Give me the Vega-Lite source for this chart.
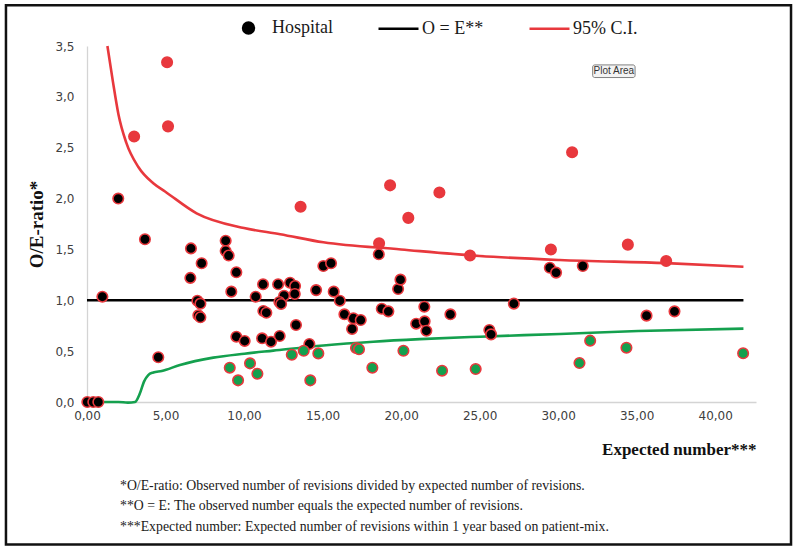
{
  "$schema": "https://vega.github.io/schema/vega-lite/v6.json",
  "width": 669,
  "height": 356,
  "autosize": {"type": "none"},
  "padding": {"left": 87, "top": 46, "right": 38, "bottom": 145},
  "background": "white",
  "config": {
    "locale": {"number": {"decimal": ",", "thousands": ".", "grouping": [3], "currency": ["", " €"]}},
    "view": {"stroke": null},
    "axis": {
      "gridColor": "#d4d4d4",
      "gridWidth": 1.3,
      "domainColor": "#d4d4d4",
      "domainWidth": 1.3,
      "ticks": false,
      "labelFlush": false,
      "labelFont": "DejaVu Sans",
      "labelFontSize": 12,
      "labelColor": "#404040",
      "titleFont": "Liberation Serif",
      "titleFontWeight": "bold",
      "titleColor": "#111111"
    }
  },
  "title": {
    "text": [
      "*O/E-ratio: Observed number of revisions divided by expected number of revisions.",
      "**O = E: The observed number equals the expected number of revisions.",
      "***Expected number: Expected number of revisions within 1 year based on patient-mix."
    ],
    "orient": "bottom",
    "anchor": "start",
    "frame": "group",
    "baseline": "top",
    "dx": 33,
    "offset": -67,
    "lineHeight": 20.5,
    "font": "Liberation Serif",
    "fontSize": 13.8,
    "fontWeight": "normal",
    "color": "#1a1a1a"
  },
  "datasets": {
    "hospitals": [
      {"E": 3.00, "OE": 2.61, "group": "above"},
      {"E": 5.10, "OE": 3.34, "group": "above"},
      {"E": 5.16, "OE": 2.71, "group": "above"},
      {"E": 13.6, "OE": 1.92, "group": "above"},
      {"E": 19.3, "OE": 2.13, "group": "above"},
      {"E": 22.44, "OE": 2.06, "group": "above"},
      {"E": 20.46, "OE": 1.81, "group": "above"},
      {"E": 18.6, "OE": 1.56, "group": "above"},
      {"E": 24.39, "OE": 1.44, "group": "above"},
      {"E": 29.54, "OE": 1.50, "group": "above"},
      {"E": 30.89, "OE": 2.455, "group": "above"},
      {"E": 34.44, "OE": 1.547, "group": "above"},
      {"E": 36.88, "OE": 1.386, "group": "above"},
      {"E": 0.02, "OE": 0.0, "group": "within"},
      {"E": 0.40, "OE": 0.0, "group": "within"},
      {"E": 0.72, "OE": 0.0, "group": "within"},
      {"E": 0.98, "OE": 1.035, "group": "within"},
      {"E": 1.99, "OE": 2.00, "group": "within"},
      {"E": 3.69, "OE": 1.60, "group": "within"},
      {"E": 4.54, "OE": 0.44, "group": "within"},
      {"E": 6.62, "OE": 1.51, "group": "within"},
      {"E": 6.58, "OE": 1.22, "group": "within"},
      {"E": 7.30, "OE": 1.364, "group": "within"},
      {"E": 7.03, "OE": 0.996, "group": "within"},
      {"E": 7.22, "OE": 0.967, "group": "within"},
      {"E": 7.09, "OE": 0.852, "group": "within"},
      {"E": 7.22, "OE": 0.833, "group": "within"},
      {"E": 8.83, "OE": 1.586, "group": "within"},
      {"E": 8.83, "OE": 1.485, "group": "within"},
      {"E": 9.02, "OE": 1.44, "group": "within"},
      {"E": 9.51, "OE": 1.275, "group": "within"},
      {"E": 9.19, "OE": 1.085, "group": "within"},
      {"E": 9.51, "OE": 0.642, "group": "within"},
      {"E": 10.04, "OE": 0.60, "group": "within"},
      {"E": 10.74, "OE": 1.035, "group": "within"},
      {"E": 11.21, "OE": 1.157, "group": "within"},
      {"E": 12.17, "OE": 1.157, "group": "within"},
      {"E": 12.93, "OE": 1.173, "group": "within"},
      {"E": 13.25, "OE": 1.14, "group": "within"},
      {"E": 13.23, "OE": 1.062, "group": "within"},
      {"E": 12.55, "OE": 1.045, "group": "within"},
      {"E": 12.25, "OE": 0.983, "group": "within"},
      {"E": 12.36, "OE": 0.964, "group": "within"},
      {"E": 11.23, "OE": 0.895, "group": "within"},
      {"E": 11.42, "OE": 0.878, "group": "within"},
      {"E": 11.15, "OE": 0.626, "group": "within"},
      {"E": 11.72, "OE": 0.593, "group": "within"},
      {"E": 12.27, "OE": 0.649, "group": "within"},
      {"E": 13.31, "OE": 0.757, "group": "within"},
      {"E": 14.16, "OE": 0.57, "group": "within"},
      {"E": 14.59, "OE": 1.10, "group": "within"},
      {"E": 15.05, "OE": 1.337, "group": "within"},
      {"E": 15.54, "OE": 1.364, "group": "within"},
      {"E": 15.71, "OE": 1.085, "group": "within"},
      {"E": 16.10, "OE": 0.996, "group": "within"},
      {"E": 16.39, "OE": 0.862, "group": "within"},
      {"E": 16.96, "OE": 0.823, "group": "within"},
      {"E": 17.43, "OE": 0.806, "group": "within"},
      {"E": 16.88, "OE": 0.718, "group": "within"},
      {"E": 18.58, "OE": 1.452, "group": "within"},
      {"E": 18.77, "OE": 0.917, "group": "within"},
      {"E": 19.19, "OE": 0.891, "group": "within"},
      {"E": 19.81, "OE": 1.111, "group": "within"},
      {"E": 19.96, "OE": 1.203, "group": "within"},
      {"E": 20.96, "OE": 0.77, "group": "within"},
      {"E": 21.48, "OE": 0.937, "group": "within"},
      {"E": 21.50, "OE": 0.793, "group": "within"},
      {"E": 21.61, "OE": 0.701, "group": "within"},
      {"E": 23.14, "OE": 0.862, "group": "within"},
      {"E": 25.62, "OE": 0.708, "group": "within"},
      {"E": 25.73, "OE": 0.665, "group": "within"},
      {"E": 27.18, "OE": 0.967, "group": "within"},
      {"E": 29.47, "OE": 1.32, "group": "within"},
      {"E": 29.87, "OE": 1.272, "group": "within"},
      {"E": 31.57, "OE": 1.337, "group": "within"},
      {"E": 35.63, "OE": 0.849, "group": "within"},
      {"E": 37.41, "OE": 0.891, "group": "within"},
      {"E": 9.09, "OE": 0.337, "group": "below"},
      {"E": 10.38, "OE": 0.38, "group": "below"},
      {"E": 9.62, "OE": 0.213, "group": "below"},
      {"E": 10.85, "OE": 0.278, "group": "below"},
      {"E": 13.04, "OE": 0.465, "group": "below"},
      {"E": 13.80, "OE": 0.504, "group": "below"},
      {"E": 14.73, "OE": 0.478, "group": "below"},
      {"E": 14.22, "OE": 0.213, "group": "below"},
      {"E": 17.13, "OE": 0.531, "group": "below"},
      {"E": 17.32, "OE": 0.518, "group": "below"},
      {"E": 18.17, "OE": 0.337, "group": "below"},
      {"E": 20.15, "OE": 0.504, "group": "below"},
      {"E": 22.61, "OE": 0.308, "group": "below"},
      {"E": 24.75, "OE": 0.324, "group": "below"},
      {"E": 31.36, "OE": 0.383, "group": "below"},
      {"E": 32.04, "OE": 0.603, "group": "below"},
      {"E": 34.35, "OE": 0.534, "group": "below"},
      {"E": 41.78, "OE": 0.479, "group": "below"}
    ],
    "lines": [
      {"E": 0, "OE": 1, "series": "O = E**"},
      {"E": 41.8, "OE": 1, "series": "O = E**"},
      {"E": 1.3, "OE": 3.5, "series": "95% C.I."},
      {"E": 1.65, "OE": 3.15, "series": "95% C.I."},
      {"E": 2.0, "OE": 2.83, "series": "95% C.I."},
      {"E": 2.5, "OE": 2.55, "series": "95% C.I."},
      {"E": 3.27, "OE": 2.31, "series": "95% C.I."},
      {"E": 4.22, "OE": 2.15, "series": "95% C.I."},
      {"E": 4.97, "OE": 2.07, "series": "95% C.I."},
      {"E": 6.98, "OE": 1.855, "series": "95% C.I."},
      {"E": 10.0, "OE": 1.71, "series": "95% C.I."},
      {"E": 12.3, "OE": 1.65, "series": "95% C.I."},
      {"E": 15.05, "OE": 1.57, "series": "95% C.I."},
      {"E": 20.0, "OE": 1.50, "series": "95% C.I."},
      {"E": 25.0, "OE": 1.435, "series": "95% C.I."},
      {"E": 30.1, "OE": 1.396, "series": "95% C.I."},
      {"E": 36.9, "OE": 1.365, "series": "95% C.I."},
      {"E": 41.8, "OE": 1.33, "series": "95% C.I."}
    ],
    "lower": [
      {"E": 0, "OE": 0},
      {"E": 2.0, "OE": 0},
      {"E": 2.6, "OE": -0.006},
      {"E": 3.06, "OE": 0},
      {"E": 3.37, "OE": 0.085},
      {"E": 3.63, "OE": 0.2},
      {"E": 3.9, "OE": 0.265},
      {"E": 4.22, "OE": 0.29},
      {"E": 4.76, "OE": 0.305},
      {"E": 5.92, "OE": 0.364},
      {"E": 8.04, "OE": 0.436},
      {"E": 10.02, "OE": 0.475},
      {"E": 11.86, "OE": 0.505},
      {"E": 15.05, "OE": 0.556},
      {"E": 18.23, "OE": 0.593},
      {"E": 21.2, "OE": 0.618},
      {"E": 25.03, "OE": 0.642},
      {"E": 30.12, "OE": 0.669},
      {"E": 35.1, "OE": 0.698},
      {"E": 41.8, "OE": 0.721}
    ]
  },
  "layer": [
    {
      "data": {"values": [{}]},
      "mark": {"type": "rect", "fill": "transparent", "stroke": "#111111", "strokeWidth": 2.5, "clip": false},
      "encoding": {
        "x": {"datum": -5.16, "type": "quantitative", "scale": {"domain": [0, 42.6], "nice": false, "zero": false, "padding": 0}},
        "x2": {"datum": 44.83},
        "y": {"datum": -1.40, "type": "quantitative", "scale": {"domain": [0, 3.5], "nice": false, "padding": 0}},
        "y2": {"datum": 3.90}
      }
    },
    {
      "data": {"name": "lower"},
      "mark": {"type": "line", "color": "#14a04e", "strokeWidth": 2.6, "interpolate": "monotone"},
      "encoding": {
        "x": {"field": "E", "type": "quantitative"},
        "y": {"field": "OE", "type": "quantitative"}
      }
    },
    {
      "data": {"name": "lines"},
      "mark": {"type": "line", "strokeWidth": 2.6, "interpolate": "monotone"},
      "encoding": {
        "x": {
          "field": "E", "type": "quantitative",
          "scale": {"domain": [0, 42.6], "nice": false, "zero": false, "padding": 0},
          "axis": {
            "values": [0, 5, 10, 15, 20, 25, 30, 35, 40],
            "format": ".2f",
            "labelPadding": 8,
            "title": "Expected number***",
            "titleAnchor": "end",
            "titleAlign": "right",
            "titleFontSize": 17,
            "titlePadding": 20
          }
        },
        "y": {
          "field": "OE", "type": "quantitative",
          "scale": {"domain": [0, 3.5], "nice": false, "padding": 0},
          "axis": {
            "values": [0, 0.5, 1, 1.5, 2, 2.5, 3, 3.5],
            "format": ".1f",
            "labelPadding": 13,
            "title": "O/E-ratio*",
            "titleFontSize": 19,
            "titlePadding": 8
          }
        },
        "color": {
          "field": "series", "type": "nominal",
          "scale": {"domain": ["Hospital", "O = E**", "95% C.I."], "range": ["#000000", "#000000", "#e8383d"]},
          "legend": {
            "orient": "none",
            "legendX": 140,
            "legendY": -40,
            "direction": "horizontal",
            "title": null,
            "labelFont": "Liberation Serif",
            "labelFontSize": 18,
            "labelColor": "#1a1a1a",
            "labelOffset": 2,
            "symbolSize": 1600,
            "symbolStrokeWidth": 2.6,
            "columnPadding": 40,
            "encode": {
              "symbols": {
                "update": {
                  "shape": {"signal": "datum.value === 'Hospital' ? 'M-0.27,0A0.27,0.27,0,1,1,0.27,0A0.27,0.27,0,1,1,-0.27,0Z' : 'stroke'"},
                  "fill": {"signal": "datum.value === 'Hospital' ? '#000000' : 'transparent'"},
                  "stroke": {"signal": "datum.value === 'O = E**' ? '#000000' : '#e8383d'"}
                }
              }
            }
          }
        }
      }
    },
    {
      "data": {"name": "hospitals"},
      "mark": {"type": "point", "shape": "circle", "filled": true, "size": 110, "stroke": "#e8383d", "strokeWidth": 1.6, "opacity": 1},
      "encoding": {
        "x": {"field": "E", "type": "quantitative"},
        "y": {"field": "OE", "type": "quantitative"},
        "fill": {
          "field": "group", "type": "nominal",
          "scale": {"domain": ["above", "within", "below"], "range": ["#e8383d", "#000000", "#14a04e"]},
          "legend": null
        }
      }
    },
    {
      "data": {"values": [{}]},
      "mark": {"type": "rect", "fill": "#f3f3f3", "stroke": "#808080", "strokeWidth": 1, "cornerRadius": 2},
      "encoding": {
        "x": {"datum": 32.2, "type": "quantitative"},
        "x2": {"datum": 34.9},
        "y": {"datum": 3.19, "type": "quantitative"},
        "y2": {"datum": 3.314}
      }
    },
    {
      "data": {"values": [{}]},
      "mark": {"type": "text", "text": "Plot Area", "font": "Liberation Sans", "fontSize": 10, "color": "#333333", "align": "center", "baseline": "middle"},
      "encoding": {
        "x": {"datum": 33.55, "type": "quantitative"},
        "y": {"datum": 3.252, "type": "quantitative"}
      }
    }
  ]
}
